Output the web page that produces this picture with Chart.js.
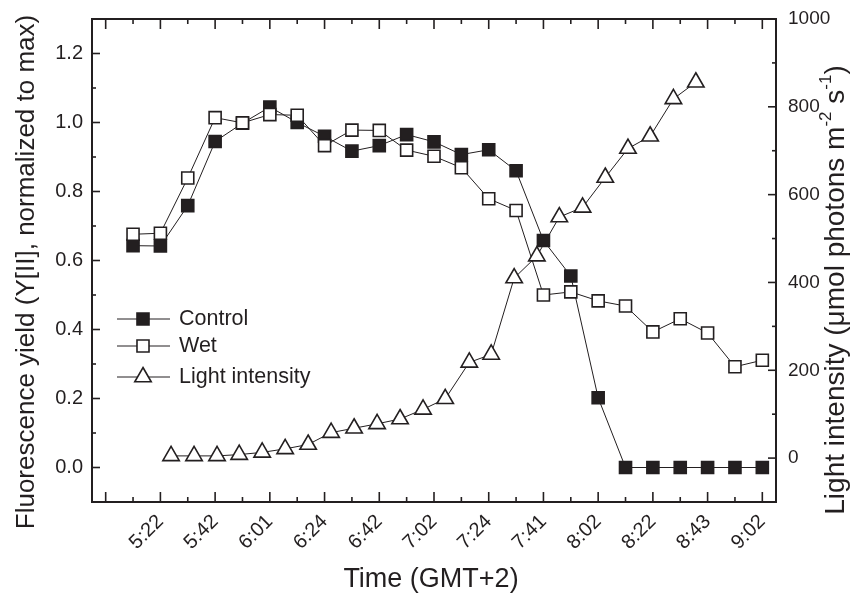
<!DOCTYPE html>
<html>
<head>
<meta charset="utf-8">
<script src="https://cdn.jsdelivr.net/npm/chart.js@4.4.0/dist/chart.umd.min.js"></script>
<style>
html,body{margin:0;padding:0;background:#fff;}
#wrap{width:852px;height:597px;position:relative;}
</style>
</head>
<body>
<div id="wrap"><canvas id="c" width="852" height="597"></canvas></div>
<script>
// ---------- data ----------
const tickLabels = ['5:22','5:42','6:01','6:24','6:42','7:02','7:24','7:41','8:02','8:22','8:43','9:02'];
const sampleIndex = [0,1,2,3,4,5,6,7,8,9,10,11,12,13,14,15,16,17,18,19,20,21,22,23];
const controlYield = [0.643,0.642,0.759,0.945,0.998,1.045,1.000,0.960,0.917,0.933,0.965,0.944,0.907,0.921,0.860,0.658,0.555,0.202,0,0,0,0,0,0];
const wetYield = [0.676,0.679,0.839,1.014,0.999,1.023,1.021,0.933,0.978,0.977,0.920,0.902,0.869,0.779,0.745,0.500,0.509,0.483,0.468,0.393,0.431,0.390,0.292,0.311];
const lightPos = [1.39,2.23,3.07,3.88,4.72,5.56,6.40,7.24,8.08,8.92,9.76,10.60,11.41,12.29,13.09,13.93,14.76,15.58,16.43,17.26,18.09,18.90,19.75,20.57];
const lightIntensity = [5,5,5,8,13,21,31,58,68,78,89,111,135,218,236,410,460,549,571,639,705,733,818,856];
const yTicks = [0,0.2,0.4,0.6,0.8,1.0,1.2];
const y2Ticks = [0,200,400,600,800,1000];

// ---------- style ----------
const INK = '#231f20';
const FONT = "'Liberation Sans', Arial, Helvetica, sans-serif";
Chart.defaults.font.family = FONT;
Chart.defaults.color = INK;

const xMajor = [-1].concat(tickLabels.map((_, j) => 2 * j + 1));

function line(ctx, x1, y1, x2, y2) { ctx.beginPath(); ctx.moveTo(x1, y1); ctx.lineTo(x2, y2); ctx.stroke(); }

function drawMarker(ctx, style, x, y, r, fill, bw) {
  ctx.save();
  ctx.lineWidth = bw; ctx.strokeStyle = INK; ctx.fillStyle = fill;
  ctx.beginPath();
  if (style === 'rect') {
    const s = Math.SQRT1_2 * r;
    ctx.rect(x - s, y - s, 2 * s, 2 * s);
  } else {
    ctx.moveTo(x, y - r);
    ctx.lineTo(x + Math.sin(2 * Math.PI / 3) * r, y + r / 2);
    ctx.lineTo(x - Math.sin(2 * Math.PI / 3) * r, y + r / 2);
    ctx.closePath();
  }
  ctx.fill(); ctx.stroke();
  ctx.restore();
}

function drawRuns(ctx, runs, cx, cy, angle) {
  ctx.save();
  ctx.translate(cx, cy); ctx.rotate(angle);
  let total = 0;
  runs.forEach(r => { ctx.font = r.size + 'px ' + FONT; r.w = ctx.measureText(r.t).width; total += r.w; });
  let x = -total / 2;
  ctx.textBaseline = 'middle'; ctx.textAlign = 'left'; ctx.fillStyle = INK;
  runs.forEach(r => { ctx.font = r.size + 'px ' + FONT; ctx.fillText(r.t, x, r.dy || 0); x += r.w; });
  ctx.restore();
}

const decor = {
  id: 'decor',
  afterDraw(chart) {
    const { ctx, chartArea: a, scales } = chart;
    ctx.save();
    ctx.strokeStyle = INK;
    ctx.lineWidth = 2;
    ctx.strokeRect(a.left, a.top, a.right - a.left, a.bottom - a.top);
    ctx.lineWidth = 1.6;
    // x ticks (bottom and top, inward)
    for (let i = -1; i <= 23; i++) {
      const x = scales.x.getPixelForValue(i);
      const L = (i % 2 !== 0) ? 10 : 5;
      line(ctx, x, a.bottom, x, a.bottom - L);
      line(ctx, x, a.top, x, a.top + L);
    }
    // left ticks
    for (let k = 0; k <= 12; k++) {
      const y = scales.y.getPixelForValue(k / 10);
      const L = (k % 2 === 0) ? 8 : 4;
      line(ctx, a.left, y, a.left + L, y);
    }
    // right ticks
    for (let k = 0; k <= 10; k++) {
      const y = scales.y2.getPixelForValue(k * 100);
      const L = (k % 2 === 0) ? 8 : 4;
      line(ctx, a.right, y, a.right - L, y);
    }
    // legend
    const items = [
      { t: 'Control', style: 'rect', fill: INK, r: 8.5, y: 319 },
      { t: 'Wet', style: 'rect', fill: '#ffffff', r: 8.5, y: 346 },
      { t: 'Light intensity', style: 'triangle', fill: '#ffffff', r: 9.5, y: 377 }
    ];
    items.forEach(it => {
      ctx.lineWidth = 1; ctx.strokeStyle = INK;
      line(ctx, 117, it.y, 170, it.y);
      drawMarker(ctx, it.style, 143, it.y, it.r, it.fill, 1.6);
      ctx.font = '21.5px ' + FONT; ctx.fillStyle = INK; ctx.textBaseline = 'middle'; ctx.textAlign = 'left';
      ctx.fillText(it.t, 179, it.y);
    });
    // axis titles
    drawRuns(ctx, [{ t: 'Time (GMT+2)', size: 27 }], 431, 580, 0);
    drawRuns(ctx, [{ t: 'Fluorescence yield (Y[II], normalized to max)', size: 26 }], 27, 272, -Math.PI / 2);
    drawRuns(ctx, [
      { t: 'Light intensity (\u03bcmol photons m', size: 28 },
      { t: '-2', size: 17, dy: -10 },
      { t: ' s', size: 28 },
      { t: '-1', size: 17, dy: -10 },
      { t: ')', size: 28 }
    ], 836, 290, -Math.PI / 2);
    ctx.restore();
  }
};

const ds = (label, data, axis, style, fill, r, order) => ({
  label, data, yAxisID: axis, order,
  borderColor: INK, borderWidth: 1, backgroundColor: fill,
  pointStyle: style, pointRadius: r, pointHoverRadius: r,
  pointBackgroundColor: fill, pointBorderColor: INK, pointBorderWidth: 1.6,
  tension: 0, fill: false
});

new Chart(document.getElementById('c'), {
  type: 'line',
  data: {
    datasets: [
      ds('Control', sampleIndex.map((x, i) => ({ x, y: controlYield[i] })), 'y', 'rect', INK, 8.5, 3),
      ds('Wet', sampleIndex.map((x, i) => ({ x, y: wetYield[i] })), 'y', 'rect', '#ffffff', 8.5, 2),
      ds('Light intensity', lightPos.map((x, i) => ({ x, y: lightIntensity[i] })), 'y2', 'triangle', '#ffffff', 9.5, 1)
    ]
  },
  options: {
    responsive: false,
    animation: false,
    layout: { padding: { top: 19, left: 0, right: 0, bottom: 0 } },
    plugins: { legend: { display: false }, tooltip: { enabled: false } },
    scales: {
      x: {
        type: 'linear', position: 'bottom', min: -1.5, max: 23.5,
        afterBuildTicks: s => { s.ticks = xMajor.map(v => ({ value: v })); },
        afterFit: s => { s.height = 95; s.paddingLeft = 0; s.paddingRight = 0; },
        grid: { display: false, drawTicks: false },
        border: { display: false },
        ticks: {
          autoSkip: false, minRotation: 45, maxRotation: 45, padding: 8,
          font: { size: 20 }, color: INK,
          callback: v => (v < 0 ? '' : tickLabels[(v - 1) / 2])
        }
      },
      y: {
        position: 'left', min: -0.1, max: 1.3,
        afterBuildTicks: s => { s.ticks = yTicks.map(v => ({ value: v })); },
        afterFit: s => { s.width = 92; s.paddingTop = 0; s.paddingBottom = 0; },
        grid: { display: false, drawTicks: false },
        border: { display: false },
        ticks: { padding: 9, font: { size: 20 }, color: INK, callback: v => Number(v).toFixed(1) }
      },
      y2: {
        position: 'right', min: -100, max: 1000,
        afterBuildTicks: s => { s.ticks = y2Ticks.map(v => ({ value: v })); },
        afterFit: s => { s.width = 76; s.paddingTop = 0; s.paddingBottom = 0; },
        grid: { display: false, drawTicks: false },
        border: { display: false },
        ticks: { padding: 12, font: { size: 19 }, color: INK, callback: v => String(v) }
      }
    }
  },
  plugins: [decor]
});
</script>
</body>
</html>
